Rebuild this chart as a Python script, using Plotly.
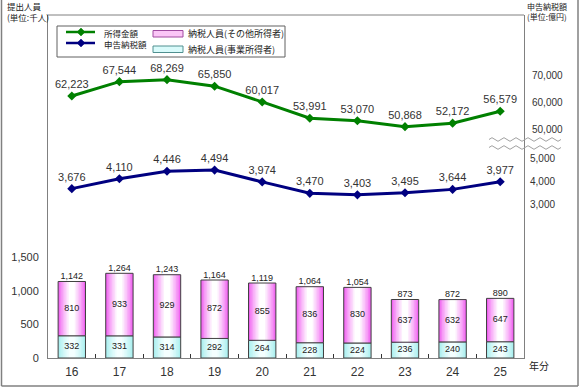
import plotly.graph_objects as go

years = ["16", "17", "18", "19", "20", "21", "22", "23", "24", "25"]
income = [62223, 67544, 68269, 65850, 60017, 53991, 53070, 50868, 52172, 56579]
tax = [3676, 4110, 4446, 4494, 3974, 3470, 3403, 3495, 3644, 3977]
persons_business = [332, 331, 314, 292, 264, 228, 224, 236, 240, 243]
persons_other = [810, 933, 929, 872, 855, 836, 830, 637, 632, 647]
persons_total = [a + b for a, b in zip(persons_business, persons_other)]

left_ticks = [0, 500, 1000, 1500]
income_ticks = [50000, 60000, 70000]
tax_ticks = [3000, 4000, 5000]

W, H = 580, 389
L, R, T, B = 48, 524, 15, 358


def px2x(p):
    return (p - L) / (R - L)


def px2y(p):
    return (B - p) / (B - T)


FONT = "Liberation Sans, Arial, Noto Sans CJK JP, sans-serif"
JFONT = "Noto Sans CJK JP, sans-serif"
TXT = "#333333"
GRID = "#808080"
GREEN = "#008000"
NAVY = "#000080"
BARW = 0.575

fig = go.Figure()


def mix(c1, c2, t):
    a = [int(c1[i:i + 2], 16) for i in (1, 3, 5)]
    b = [int(c2[i:i + 2], 16) for i in (1, 3, 5)]
    return "#" + "".join(f"{round(x + (y - x) * t):02x}" for x, y in zip(a, b))


def gradient_bar(base, vals, edge, center, n=8):
    for k in range(n):
        t = k / (n - 1)
        fig.add_trace(go.Bar(
            x=years, y=vals, base=base, width=BARW * (1 - 0.9 * k / n),
            marker=dict(color=mix(edge, center, t ** 0.8), line=dict(width=0)),
            hoverinfo="skip", showlegend=False,
        ))
    fig.add_trace(go.Bar(
        x=years, y=vals, base=base, width=BARW,
        marker=dict(color="rgba(0,0,0,0)", line=dict(color="#404040", width=1)),
        hoverinfo="skip", showlegend=False,
    ))


gradient_bar([0] * len(years), persons_business, "#a8eeee", "#f4ffff")
gradient_bar(persons_business, persons_other, "#f060f0", "#ffffff")

fig.add_trace(go.Scatter(
    x=years, y=[b / 2 for b in persons_business], mode="text",
    text=[f"{v:,}" for v in persons_business],
    textfont=dict(size=9, color="#222", family=FONT), hoverinfo="skip",
))
fig.add_trace(go.Scatter(
    x=years, y=[b + o / 2 for b, o in zip(persons_business, persons_other)], mode="text",
    text=[f"{v:,}" for v in persons_other],
    textfont=dict(size=9, color="#222", family=FONT), hoverinfo="skip",
))
fig.add_trace(go.Scatter(
    x=years, y=persons_total, mode="text",
    text=[f"{v:,}" for v in persons_total], textposition="top center",
    textfont=dict(size=9, color="#222", family=FONT), hoverinfo="skip",
))

fig.add_trace(go.Scatter(
    x=years, y=income, yaxis="y2", name="所得金額", mode="lines+markers+text",
    line=dict(color=GREEN, width=3),
    marker=dict(symbol="diamond", size=7, color=GREEN),
    text=[f"{v:,}" for v in income], textposition="top center",
    textfont=dict(size=11, color=TXT, family=FONT),
))
fig.add_trace(go.Scatter(
    x=years, y=tax, yaxis="y3", name="申告納税額", mode="lines+markers+text",
    line=dict(color=NAVY, width=3),
    marker=dict(symbol="diamond", size=7, color=NAVY),
    text=[f"{v:,}" for v in tax], textposition="top center",
    textfont=dict(size=11, color=TXT, family=FONT),
))

# y2: 60,000 at px 102, 2.7 px per 1000
s2 = 0.0027
y2_lo = 60000 - (B - 102) / s2
y2_hi = 60000 + (102 - T) / s2
# y3: 4,000 at px 181.3, 22.7 px per 1000
s3 = 0.0227
y3_lo = 4000 - (B - 181.3) / s3
y3_hi = 4000 + (181.3 - T) / s3
y1_hi = (B - T) / 0.067

fig.update_layout(
    width=W, height=H,
    margin=dict(l=L, r=W - R, t=T, b=H - B, pad=0, autoexpand=False),
    paper_bgcolor="white", plot_bgcolor="white",
    font=dict(family=FONT, size=11, color=TXT),
    barmode="overlay",
    showlegend=False,
    xaxis=dict(type="category", showgrid=False, showline=True, linecolor=GRID, linewidth=1,
               ticks="inside", ticklen=4, tickcolor="#333", tickson="boundaries",
               tickfont=dict(size=12, color=TXT), ticklabelstandoff=3, automargin=False,
               range=[-0.5, len(years) - 0.5]),
    yaxis=dict(range=[0, y1_hi], tickvals=left_ticks, ticktext=[f"{v:,}" for v in left_ticks],
               showgrid=False, zeroline=False, showline=True, linecolor=GRID, linewidth=1,
               ticks="", tickfont=dict(size=11, color=TXT), ticklabelstandoff=6,
               automargin=False),
    yaxis2=dict(range=[y2_lo, y2_hi], overlaying="y", side="right", anchor="x",
                tickvals=income_ticks, ticktext=[f"{v:,}" for v in income_ticks],
                showgrid=False, zeroline=False, showline=True, linecolor=GRID, linewidth=1,
                ticks="", tickfont=dict(size=10, color=TXT), ticklabelstandoff=5,
                automargin=False),
    yaxis3=dict(range=[y3_lo, y3_hi], overlaying="y", side="right", anchor="x",
                tickvals=tax_ticks, ticktext=[f"{v:,}" for v in tax_ticks],
                showgrid=False, zeroline=False, showline=False,
                ticks="", tickfont=dict(size=10, color=TXT), ticklabelstandoff=5,
                automargin=False),
)

shapes = []
shapes.append(dict(type="line", xref="paper", yref="paper", x0=0, x1=1, y0=1, y1=1,
                   line=dict(color=GRID, width=1)))
for (a, b, c, d) in [(1.5, 0, 1.5, 386), (578, 0, 578, 386), (1.5, 386, 578, 386)]:
    shapes.append(dict(type="line", xref="paper", yref="paper", x0=px2x(a), y0=px2y(b),
                       x1=px2x(c), y1=px2y(d), line=dict(color=GRID, width=1.5)))


def path_px(pts, close=False):
    s = "M " + " L ".join(f"{px2x(a):.5f},{px2y(b):.5f}" for a, b in pts)
    return s + (" Z" if close else "")


def wave(y):
    pts = []
    x = 489.0
    k = 0
    while x <= 563.01:
        dy = [0, -1.8, 0, 1.8][k % 4]
        pts.append((x, y + dy))
        x += 3.0
        k += 1
    return path_px(pts)


for yy in (139.5, 147.5):
    shapes.append(dict(type="path", xref="paper", yref="paper", path=wave(yy),
                       line=dict(color="#a0a0a0", width=1)))

# legend key box
shapes.append(dict(type="rect", xref="paper", yref="paper", x0=px2x(57), x1=px2x(285),
                   y0=px2y(57), y1=px2y(26), line=dict(color="#606060", width=1)))
for (yy, col) in [(32, GREEN), (43, NAVY)]:
    shapes.append(dict(type="line", xref="paper", yref="paper", x0=px2x(66), x1=px2x(95),
                       y0=px2y(yy), y1=px2y(yy), line=dict(color=col, width=2.5)))
    cx = 81
    shapes.append(dict(type="path", xref="paper", yref="paper",
                       path=path_px([(cx - 4, yy), (cx, yy - 4), (cx + 4, yy), (cx, yy + 4)], True),
                       fillcolor=col, line=dict(color=col, width=0.5)))
for (y0, y1, col, edge) in [(30.5, 37, "#fbc6f7", "#a04aa0"), (46, 52.5, "#d9fbfb", "#509090")]:
    shapes.append(dict(type="rect", xref="paper", yref="paper", x0=px2x(153), x1=px2x(183),
                       y0=px2y(y1), y1=px2y(y0), fillcolor=col, line=dict(color=edge, width=1)))
fig.update_layout(shapes=shapes)

ann = [
    dict(text="提出人員<br>(単位:千人)", x=px2x(5), y=px2y(12), size=8.5),
    dict(text="申告納税額<br>(単位:億円)", x=px2x(525), y=px2y(12), size=8),
    dict(text="年分", x=px2x(527), y=px2y(365), size=10),
    dict(text="所得金額<br>申告納税額", x=px2x(102), y=px2y(38.5), size=8.5),
    dict(text="納税人員(その他所得者)", x=px2x(186), y=px2y(33.5), size=9),
    dict(text="納税人員(事業所得者)", x=px2x(186), y=px2y(49), size=9),
]
for a in ann:
    sz = a.pop("size")
    a.update(xref="paper", yref="paper", showarrow=False, yanchor="middle", xanchor="left",
             align="left", font=dict(size=sz, family=JFONT, color="#222"))
fig.update_layout(annotations=ann)

fig.write_html("out.html", config={"displayModeBar": False},
               post_script="document.body.style.margin='0';document.body.style.padding='0';")
